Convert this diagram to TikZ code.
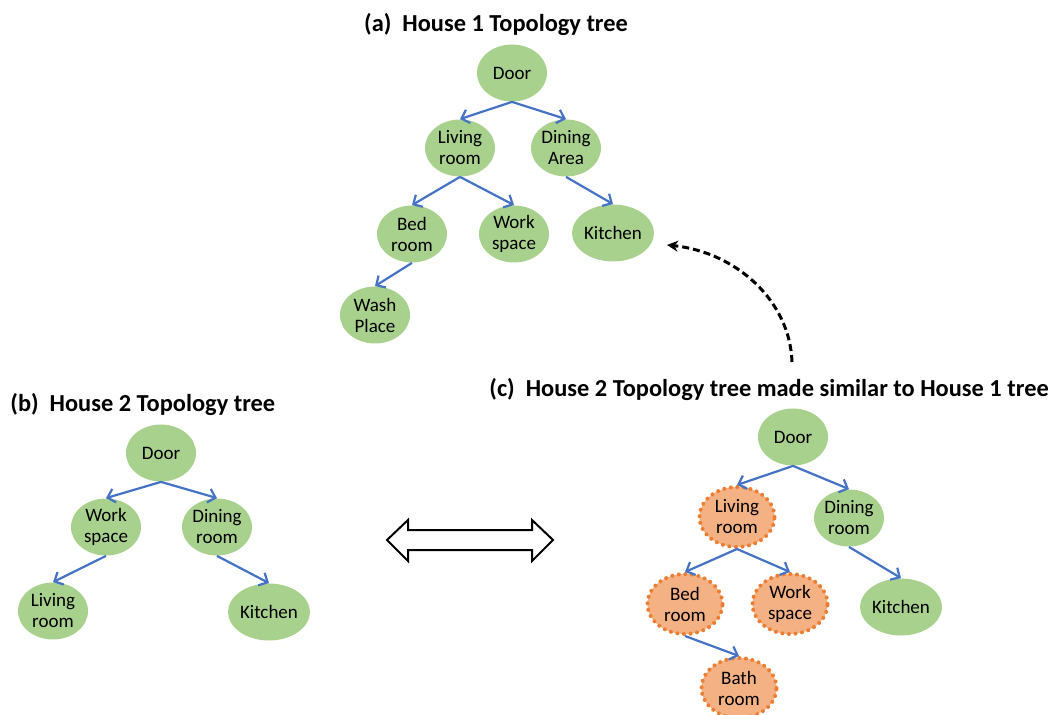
\documentclass[tikz,border=0pt]{standalone}
\usepackage{fontspec}
\setmainfont{Carlito}
\usetikzlibrary{shapes.geometric,arrows.meta}
\definecolor{roomgreen}{RGB}{169,209,142}
\definecolor{roomorange}{RGB}{244,177,131}
\definecolor{dotorange}{RGB}{237,125,49}
\definecolor{linkblue}{RGB}{68,114,196}

\begin{document}
\begin{tikzpicture}[x=0.5pt,y=-0.5pt,
    room/.style={ellipse, fill=roomgreen, minimum width=35pt, minimum height=28.5pt, inner sep=0pt, align=center, font=\fontsize{9.5}{10.5}\selectfont},
    moved/.style={room, fill=roomorange, draw=dotorange, line width=2pt, line cap=round, dash pattern=on 0pt off 3.3pt, minimum width=37.5pt, minimum height=30pt},
    link/.style={-{Straight Barb[length=3.5pt,width=7pt]}, linkblue, line width=1.1pt},
    title/.style={inner sep=0pt, font=\fontsize{12.2}{14}\selectfont\bfseries}]
  \useasboundingbox (0,0) rectangle (1059,715);

  % (a) House 1
  \node[title] (titleA) at (496,25) {(a)\hspace{0.45em}House 1 Topology tree};
  \node[room] (doorA) at (512,73) {Door};
  \node[room] (livingA) at (460,148) {Living\\room};
  \node[room] (diningA) at (566,148) {Dining\\Area};
  \node[room] (bedA) at (412,234) {Bed\\room};
  \node[room] (workA) at (514,234) {Work\\space};
  \node[room] (kitchenA) at (613,233) {Kitchen};
  \node[room] (washA) at (375,315) {Wash\\Place};

  \draw[link] (doorA.south) -- (livingA.north);
  \draw[link] (doorA.south) -- (diningA.north);
  \draw[link] (livingA.south) -- (bedA.north);
  \draw[link] (livingA.south) -- (workA.north);
  \draw[link] (diningA.south) -- (kitchenA.north);
  \draw[link] (bedA.south) -- (washA.north);

  % (b) House 2
  \node[title, anchor=west] (titleB) at (10,405) {(b)\hspace{0.45em}House 2 Topology tree};
  \node[room] (doorB) at (161,453) {Door};
  \node[room] (workB) at (106,527) {Work\\space};
  \node[room] (diningB) at (217,527) {Dining\\room};
  \node[room] (livingB) at (53,611) {Living\\room};
  \node[room] (kitchenB) at (269,612) {Kitchen};

  \draw[link] (doorB.south) -- (workB.north);
  \draw[link] (doorB.south) -- (diningB.north);
  \draw[link] (workB.south) -- (livingB.north);
  \draw[link] (diningB.south) -- (kitchenB.north);

  % (c) House 2 made similar
  \node[title, anchor=west] (titleC) at (489,390) {(c)\hspace{0.45em}House 2 Topology tree made similar to House 1 tree};
  \node[room] (doorC) at (793,437) {Door};
  \node[moved] (livingC) at (737,517) {Living\\room};
  \node[room] (diningC) at (849,518) {Dining\\room};
  \node[moved] (bedC) at (685,604) {Bed\\room};
  \node[moved] (workC) at (790,604) {Work\\space};
  \node[room] (kitchenC) at (901,607) {Kitchen};
  \node[moved] (bathC) at (739,688) {Bath\\room};

  \draw[link] (doorC.south) -- (livingC.north);
  \draw[link] (doorC.south) -- (diningC.north);
  \draw[link] (livingC.south) -- (bedC.north);
  \draw[link] (livingC.south) -- (workC.north);
  \draw[link] (diningC.south) -- (kitchenC.north);
  \draw[link] (bedC.south) -- (bathC.north);

  % double arrow between (b) and (c)
  \draw[line width=1pt, line join=miter] (387,540) -- (408,520) -- (408,530) -- (532,530) -- (532,520)
    -- (553,540) -- (532,561) -- (532,550) -- (408,550) -- (408,561) -- cycle;

  % dashed arrow from (c) back to (a)
  \coordinate (dashstart) at (792,362);
  \coordinate (dashend) at (667,245);
  \draw[-{Stealth[length=5.5pt,width=5.5pt]}, line width=1.5pt, dash pattern=on 3.5pt off 2pt]
    (dashstart) .. controls (790,300) and (735,252) .. (dashend);
\end{tikzpicture}
\end{document}
